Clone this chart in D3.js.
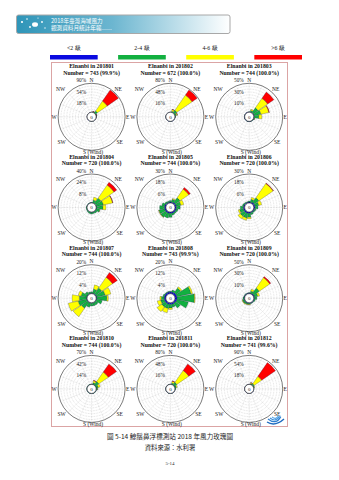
<!DOCTYPE html>
<html><head><meta charset="utf-8">
<script src="https://cdn.jsdelivr.net/npm/d3@7/dist/d3.min.js"></script>
<style>
html,body{margin:0;padding:0;background:#fff;}
svg{display:block;}
</style></head>
<body>
<svg id="c" width="339" height="480"></svg>
<script>
// ---------------- data ----------------
const directions = ["N","NNE","NE","ENE","E","ESE","SE","SSE","S","SSW","SW","WSW","W","WNW","NW","NNW"];
const speedClasses = ["<2 級","2-4 級","4-6 級",">6 級"];
const classColors = ["#0a0ae0","#12b040","#ffff00","#ff0000"];
const months = ["201801","201802","201803","201804","201805","201806","201807","201808","201809","201810","201811","201812"];
const counts = ["743 (99.9%)","672 (100.0%)","744 (100.0%)","720 (100.0%)","744 (100.0%)","720 (100.0%)","744 (100.0%)","743 (99.9%)","720 (100.0%)","744 (100.0%)","720 (100.0%)","741 (99.6%)"];
const scaleMax = [90,80,50,40,30,30,20,20,50,70,80,90];

// per month: [ <2, 2-4, 4-6, >6 ] percentages by direction (N, NNE, ... NNW)
const m201801 = [
  [0.1,0.2,0.3,0.2,0.1,0.1,0.1,0.1,0.1,0.1,0.1,0.1,0.1,0.1,0.1,0.1],
  [0.4,2.0,8.0,1.5,0.5,0.3,0.2,0.2,0.3,0.2,0.2,0.2,0.3,0.2,0.2,0.3],
  [0.0,1.0,37.0,1.0,0.2,0,0,0,0,0,0,0,0,0,0,0],
  [0.0,0.3,42.0,0.3,0,0,0,0,0,0,0,0,0,0,0,0]];
const m201802 = [
  [0.2,0.4,0.5,0.4,0.2,0.2,0.2,0.2,0.2,0.2,0.2,0.2,0.2,0.2,0.2,0.2],
  [0.5,3.0,9.0,4.0,1.0,0.4,0.3,0.3,0.4,0.3,0.3,0.3,0.4,0.3,0.3,0.4],
  [0.0,5.0,51.0,3.0,0.3,0,0,0,0,0,0,0,0,0,0,0],
  [0.0,0.5,17.0,0.3,0,0,0,0,0,0,0,0,0,0,0,0]];
const m201803 = [
  [0.5,0.5,1.0,1.0,1.0,0.5,0.5,0.5,0.5,0.5,0.5,0.5,0.5,0.5,0.5,0.5],
  [0.5,3.0,10.0,12.0,8.0,1.5,0.5,0.3,0.3,0.3,0.3,0.3,0.3,0.3,0.3,0.3],
  [0.0,2.0,20.0,14.0,5.0,0.5,0,0,0,0,0,0,0,0,0,0],
  [0.0,0.0,13.0,1.0,0,0,0,0,0,0,0,0,0,0,0,0]];
const m201804 = [
  [0.3,0.3,0.5,0.5,0.5,0.5,0.4,0.4,0.4,0.4,0.4,0.3,0.3,0.3,0.3,0.3],
  [0.5,4.0,9.0,10.0,9.0,5.0,2.5,2.0,2.5,2.0,1.5,1.0,1.0,0.5,0.5,0.5],
  [0.0,4.0,22.0,13.0,4.0,0.5,0,0,0,0,0,0,0,0,0,0],
  [0.0,0.0,4.5,0.5,0,0,0,0,0,0,0,0,0,0,0,0]];
const m201805 = [
  [1.0,1.0,1.5,1.5,1.5,1.5,1.5,1.5,1.5,1.5,1.5,1.5,1.5,1.5,1.0,1.0],
  [1.5,3.0,6.0,5.0,4.0,2.0,1.5,2.0,4.0,5.0,6.0,6.0,5.0,3.0,1.5,1.0],
  [0.0,1.0,11.0,3.0,0,0,0,0,0,0,0.5,0.5,0,0,0,0],
  [0.0,0.0,2.0,0,0,0,0,0,0,0,0,0,0,0,0,0]];
const m201806 = [
  [1.0,1.0,1.5,1.5,1.5,1.0,1.0,1.0,1.5,1.5,1.5,1.5,1.5,1.0,1.0,1.0],
  [1.0,3.0,6.0,4.0,3.0,1.5,1.0,2.0,4.0,5.0,5.0,4.0,3.0,1.5,1.0,0.5],
  [0.0,2.0,18.0,3.0,0,0,0,0,1.5,2.5,3.0,1.5,0,0,0,0],
  [0.0,0.0,0.5,0,0,0,0,0,0,0,0,0,0,0,0,0]];
const m201807 = [
  [0.3,0.3,0.5,0.5,0.5,0.4,0.3,0.3,0.3,0.3,0.4,0.4,0.4,0.3,0.3,0.3],
  [1.0,3.0,5.0,6.0,7.0,4.0,2.0,2.0,2.0,3.0,5.0,6.0,5.0,4.0,2.0,1.0],
  [0.0,3.0,9.0,4.0,1.0,0,0,0,0,0,7.0,7.0,5.0,2.0,0,0],
  [0.0,0.0,4.0,0,0,0,0,0,0,0,0,0,0,0,0,0]];
const m201808 = [
  [1.2,1.2,1.5,1.5,1.5,1.5,1.2,1.2,1.2,1.2,1.2,1.2,1.2,1.2,1.2,1.2],
  [0.5,1.5,4.0,10.0,12.0,8.0,4.0,2.0,2.5,3.0,3.0,2.5,2.0,1.0,0.5,0.5],
  [0.0,0.0,1.0,1.0,0.5,0,0,0,1.0,3.0,4.0,2.5,1.0,0,0,0],
  [0,0,0,0,0,0,0,0,0,0,0,0,0,0,0,0]];
const m201809 = [
  [1.0,1.0,1.5,1.5,1.5,1.0,1.0,1.0,1.0,1.0,1.0,1.0,1.0,1.0,1.0,1.0],
  [1.0,4.0,12.0,6.0,4.0,2.0,1.0,1.0,2.0,2.0,3.0,3.0,2.0,1.0,1.0,0.5],
  [0.0,3.0,22.0,3.0,0,0,0,0,1.0,1.0,1.0,1.0,0,0,0,0],
  [0.0,0.0,2.0,0,0,0,0,0,0,0,0,0,0,0,0,0]];
const m201810 = [
  [0.3,0.5,0.5,0.5,0.5,0.3,0.3,0.3,0.3,0.3,0.3,0.3,0.3,0.3,0.3,0.3],
  [0.7,4.0,10.0,5.0,3.0,0.7,0.7,0.7,0.7,0.7,0.7,0.7,0.7,0.7,0.7,0.7],
  [0.0,5.0,28.0,5.0,1.0,0,0,0,0,0,0,0,0,0,0,0],
  [0.0,1.0,24.0,0,0,0,0,0,0,0,0,0,0,0,0,0]];
const m201811 = [
  [0.3,0.5,0.5,0.5,0.3,0.3,0.3,0.3,0.3,0.3,0.3,0.3,0.3,0.3,0.3,0.3],
  [0.5,4.0,9.0,4.0,2.0,0.5,0.4,0.4,0.4,0.4,0.4,0.4,0.4,0.4,0.4,0.4],
  [0.0,5.0,40.0,3.0,0,0,0,0,0,0,0,0,0,0,0,0],
  [0.0,1.0,22.0,0,0,0,0,0,0,0,0,0,0,0,0,0]];
const m201812 = [
  [0.2,0.3,0.3,0.3,0.2,0.2,0.2,0.2,0.2,0.2,0.2,0.2,0.2,0.2,0.2,0.2],
  [0.3,2.0,5.0,2.0,0.5,0.3,0.2,0.2,0.2,0.2,0.2,0.2,0.2,0.2,0.2,0.2],
  [0.0,3.0,28.0,1.5,0,0,0,0,0,0,0,0,0,0,0,0],
  [0.0,1.0,52.0,0,0,0,0,0,0,0,0,0,0,0,0,0]];
const monthData = [m201801,m201802,m201803,m201804,m201805,m201806,m201807,m201808,m201809,m201810,m201811,m201812];

// ---------------- drawing ----------------
const svg = d3.select("#c");
const serif = "'Liberation Serif','Times New Roman',serif";
const cjk = "'Noto Sans CJK TC','Noto Sans CJK SC',sans-serif";

// header banner
const defs = svg.append("defs");
const grad = defs.append("linearGradient").attr("id","bg").attr("x1","0").attr("x2","1");
grad.append("stop").attr("offset","0").attr("stop-color","#2f95b8");
grad.append("stop").attr("offset","0.45").attr("stop-color","#6cb6d0");
grad.append("stop").attr("offset","1").attr("stop-color","#ffffff");
svg.append("rect").attr("x",16.5).attr("y",15).attr("width",213.5).attr("height",18.5)
  .attr("rx",2).attr("fill","url(#bg)").attr("stroke","#a8a8a8").attr("stroke-width",1);
const dots = [[22,22,1.1],[27,19,0.8],[30,27,0.9],[42,22,0.9],[45,28,0.7],[38,18,0.6]];
svg.append("g").selectAll("circle").data(dots).join("circle")
  .attr("cx",d=>d[0]).attr("cy",d=>d[1]).attr("r",d=>d[2]).attr("fill","#fff");
svg.append("ellipse").attr("cx",35).attr("cy",24.5).attr("rx",3).attr("ry",2.3).attr("fill","#fff");
svg.append("text").attr("x",51).attr("y",22.5).attr("font-family",cjk).attr("font-size",5.6)
  .attr("fill","#fff").text("2018年臺灣海域風力");
svg.append("text").attr("x",51).attr("y",30).attr("font-family",cjk).attr("font-size",5.6)
  .attr("fill","#fff").text("觀測資料月統計年報");
svg.append("line").attr("x1",86).attr("x2",112).attr("y1",29.5).attr("y2",29.5)
  .attr("stroke","#dfeef4").attr("stroke-width",0.4);

// legend
const legX = d3.scaleBand().domain(speedClasses).range([50,302]).paddingInner(0.3);
const leg = svg.append("g");
leg.selectAll("rect").data(speedClasses).join("rect")
  .attr("x",d=>legX(d)).attr("y",55).attr("width",legX.bandwidth()).attr("height",4.5)
  .attr("fill",(d,i)=>classColors[i]);
leg.selectAll("text").data(speedClasses).join("text")
  .attr("x",d=>legX(d)+legX.bandwidth()/2).attr("y",49.8).attr("text-anchor","middle")
  .attr("font-family",serif).attr("font-size",5.8).attr("fill","#111").text(d=>d);

// frame
svg.append("rect").attr("x",51.5).attr("y",62.5).attr("width",236).attr("height",364)
  .attr("fill","none").attr("stroke","#dba4a4").attr("stroke-width",1);

const colX = d3.scalePoint().domain([0,1,2]).range([91.6,249.2]);
const rowY = d3.scalePoint().domain([0,1,2,3]).range([116.8,388.9]);
const R = 33.5, r0 = 4.5;
const angle = d3.scaleLinear().domain([0,16]).range([0,2*Math.PI]);
const halfW = angle(1)/2*0.92;

const dirLabels = [
  {t:"N",dx:0,dy:-36.8},{t:"NE",dx:26.5,dy:-28},{t:"E",dx:36,dy:0},{t:"SE",dx:28,dy:25.5},
  {t:"S (Wind)",dx:1.5,dy:35},{t:"SW",dx:-30,dy:25.5},{t:"W",dx:-37.5,dy:0},{t:"NW",dx:-31,dy:-28}];

monthData.forEach((md,mi)=>{
  const cx = colX(mi%3), cy = rowY(Math.floor(mi/3));
  const g = svg.append("g").attr("transform",`translate(${cx},${cy})`);
  const max = scaleMax[mi];
  const r = d3.scaleLinear().domain([0,max]).range([r0,R]);

  // titles
  g.append("text").attr("x",0).attr("y",-48.5).attr("text-anchor","middle")
    .attr("font-family",serif).attr("font-weight","bold").attr("font-size",5.8).attr("fill","#111")
    .text("Elnanbi in "+months[mi]);
  g.append("text").attr("x",0).attr("y",-42.2).attr("text-anchor","middle")
    .attr("font-family",serif).attr("font-weight","bold").attr("font-size",5.8).attr("fill","#111")
    .text("Number = "+counts[mi]);

  // grid
  const ringVals = d3.range(1,10).map(k=>max*k/10);
  g.selectAll("circle.ring").data(ringVals).join("circle").attr("class","ring")
    .attr("r",d=>r(d)).attr("fill","none").attr("stroke","#a8a8a8")
    .attr("stroke-width",0.35).attr("stroke-dasharray","0.8,0.8");
  g.selectAll("line.spoke").data(d3.range(16)).join("line").attr("class","spoke")
    .attr("x1",i=>r0*Math.sin(angle(i))).attr("y1",i=>-r0*Math.cos(angle(i)))
    .attr("x2",i=>R*Math.sin(angle(i))).attr("y2",i=>-R*Math.cos(angle(i)))
    .attr("stroke","#b0b0b0").attr("stroke-width",0.35).attr("stroke-dasharray","0.8,0.8");
  g.append("circle").attr("r",R).attr("fill","none").attr("stroke","#222").attr("stroke-width",0.6);

  // petals
  const arc = d3.arc();
  const segs = [];
  directions.forEach((d,di)=>{
    let cum = 0;
    md.forEach((cls,ci)=>{
      const v = cls[di];
      if (v>0){
        segs.push({ci, inner:r(cum), outer:r(cum+v), a:angle(di)});
      }
      cum += v;
    });
  });
  g.selectAll("path.petal").data(segs).join("path").attr("class","petal")
    .attr("d",s=>arc({innerRadius:s.inner,outerRadius:s.outer,startAngle:s.a-halfW,endAngle:s.a+halfW}))
    .attr("fill",s=>classColors[s.ci]).attr("stroke","#1a1a40").attr("stroke-width",0.25);

  // calm circle
  g.append("circle").attr("r",r0).attr("fill","#fff").attr("stroke","#111").attr("stroke-width",0.5);
  g.append("text").attr("x",0).attr("y",1.8).attr("text-anchor","middle")
    .attr("font-family",serif).attr("font-size",5).attr("fill","#111").text("0");

  // ring labels
  [1,0.6,0.2].forEach(f=>{
    g.append("text").attr("x",-5.5).attr("y",-r(max*f)-1.2).attr("text-anchor","end")
      .attr("font-family",serif).attr("font-size",5.3).attr("fill","#222")
      .text(Math.round(max*f)+"%");
  });

  // direction labels
  g.selectAll("text.dir").data(dirLabels).join("text").attr("class","dir")
    .attr("x",d=>d.dx).attr("y",d=>d.dy+1.9).attr("text-anchor","middle")
    .attr("font-family",serif).attr("font-size",5.5).attr("fill","#222").text(d=>d.t);
});

// logo in frame corner
const logo = svg.append("g").attr("transform","translate(277,419)");
[[-9,0,8,"#2f7fd0"],[-7,-1,6,"#3a90dd"],[-5,-2,4,"#59a8e8"]].forEach(a=>{
  logo.append("path").attr("d",`M${a[0]},${a[1]} q${a[2]},${a[2]*0.8} ${a[2]*1.6},-${a[2]*0.3}`)
    .attr("fill","none").attr("stroke",a[3]).attr("stroke-width",1.2);
});
logo.append("path").attr("d","M-10,3 q8,5 17,-3").attr("fill","none").attr("stroke","#1e6bc0").attr("stroke-width",1.4);

// caption
svg.append("text").attr("x",170).attr("y",439).attr("text-anchor","middle")
  .attr("font-family",cjk).attr("font-size",6.6).attr("fill","#222")
  .text("圖 5-14 鯨鬚鼻浮標測站 2018 年風力玫瑰圖");
svg.append("text").attr("x",170).attr("y",449.5).attr("text-anchor","middle")
  .attr("font-family",cjk).attr("font-size",6.3).attr("fill","#222")
  .text("資料來源：水利署");
svg.append("text").attr("x",170).attr("y",465).attr("text-anchor","middle")
  .attr("font-family",serif).attr("font-size",5).attr("fill","#333").text("5-14");
</script>
</body></html>
